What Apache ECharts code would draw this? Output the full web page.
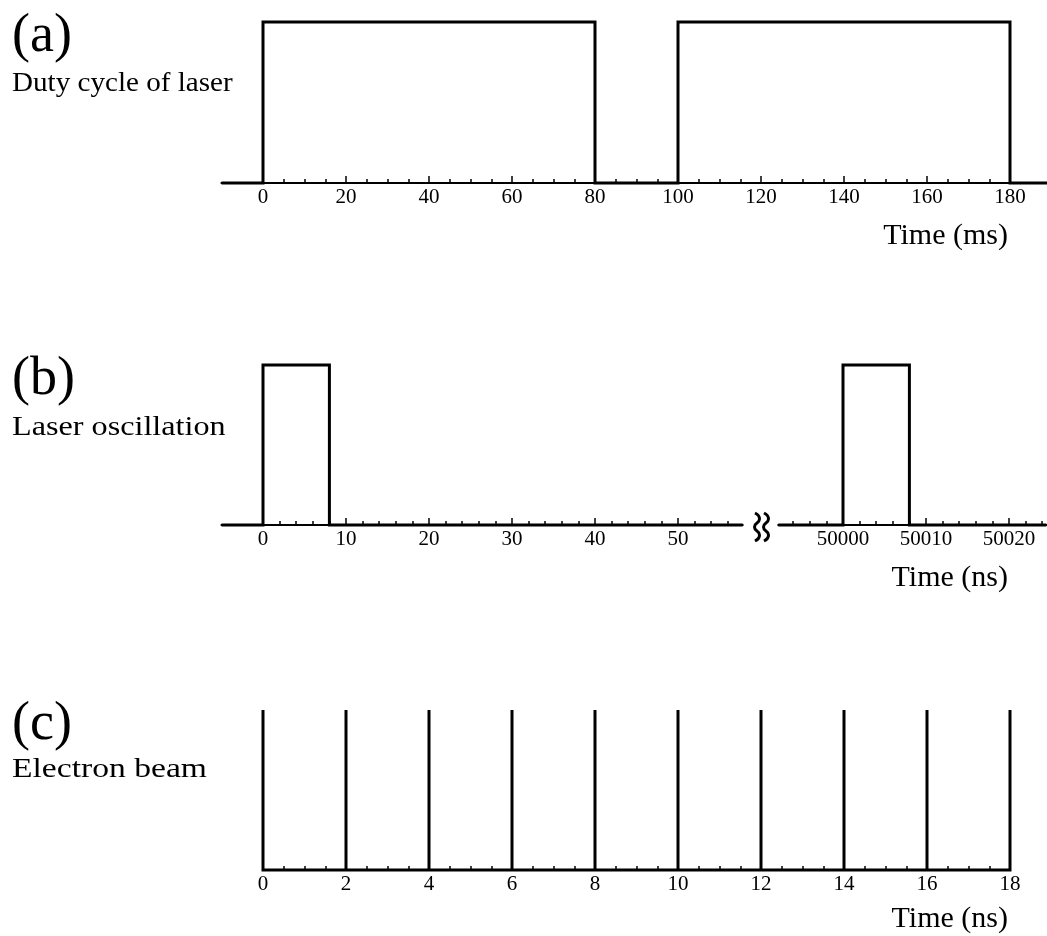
<!DOCTYPE html>
<html>
<head>
<meta charset="utf-8">
<script src="https://cdn.jsdelivr.net/npm/echarts@6/dist/echarts.min.js"></script>
<style>
html,body{margin:0;padding:0;background:#fff;}
#chart{width:1047px;height:936px;}
</style>
</head>
<body>
<div id="chart"></div>
<script>
// ---------------- data ----------------
// (a) duty cycle of laser, time in ms
const dutyTime  = [-10, 0, 0, 80, 80, 100, 100, 180, 180, 190];
const dutyLevel = [0, 0, 1, 1, 0, 0, 1, 1, 0, 0];
const ticksA = [0, 20, 40, 60, 80, 100, 120, 140, 160, 180];
const minorStepA = 5;

// (b) laser oscillation, time in ns (broken axis)
const oscNearTime  = [-5, 0, 0, 8, 8, 57.8];
const oscNearLevel = [0, 0, 1, 1, 0, 0];
const oscFarTime   = [49992.2, 50000, 50000, 50008, 50008, 50024.5];
const oscFarLevel  = [0, 0, 1, 1, 0, 0];
const ticksBnear = [0, 10, 20, 30, 40, 50];
const ticksBfar  = [50000, 50010, 50020];
const minorStepB = 2;

// (c) electron beam, time in ns
const beamTimes  = [0, 2, 4, 6, 8, 10, 12, 14, 16, 18];
const beamHeight = 1;
const ticksC = [0, 2, 4, 6, 8, 10, 12, 14, 16, 18];
const minorStepC = 0.5;

// text
const panelTags   = ['(a)', '(b)', '(c)'];
const panelNames  = ['Duty cycle of laser', 'Laser oscillation', 'Electron beam'];
const axisNames   = ['Time (ms)', 'Time (ns)', 'Time (ns)'];

// ---------------- helpers ----------------
function seq(a, b, s) { const r = []; for (let v = a; v <= b + 1e-9; v += s) r.push(+v.toFixed(6)); return r; }
function pairs(xs, ys) { return xs.map((x, i) => [x, ys[i]]); }
function spikes(ts, h) {
  const d = [];
  ts.forEach(t => { d.push([t, 0], [t, h], [t, 0]); });
  return d;
}

const FONT = '"Liberation Serif", "Times New Roman", serif';
const K1 = 4.15;   // px per ms in (a)
const K2 = 8.3;    // px per ns in (b)
const ranges = [[-10, 190], [-5, 57.8], [49992.2, 50024.5], [0, 18]];
const scales = [K1, K2, K2, 747 / 18];
const tops = [22, 365, 365, 710];
const heights = [161, 160, 160, 160];
const zeroPx = [263, 263, 843, 263];
const zeroVal = [0, 0, 50000, 0];
const grids = ranges.map((r, i) => ({
  containLabel: false, outerBoundsMode: 'none',
  left: zeroPx[i] + (r[0] - zeroVal[i]) * scales[i],
  width: (r[1] - r[0]) * scales[i],
  top: tops[i], height: heights[i]
}));

const majors = [ticksA, ticksBnear, ticksBfar, ticksC];
const minors = [
  seq(0, 180, minorStepA),
  seq(0, 56, minorStepB),
  seq(49994, 50024, minorStepB),
  seq(0, 18, minorStepC)
];

const xAxes = [];
const yAxes = [];
for (let i = 0; i < 4; i++) {
  xAxes.push({
    type: 'value', gridIndex: i, position: 'bottom', min: ranges[i][0], max: ranges[i][1],
    axisLine: { show: true, onZero: false, lineStyle: { color: '#000', width: 2.2 } },
    axisTick: { show: true, inside: true, length: 7, customValues: majors[i], lineStyle: { color: '#000', width: 1.5 } },
    axisLabel: { show: true, customValues: majors[i], margin: 4, color: '#000', fontFamily: FONT, fontSize: 21,
      formatter: v => String(v), hideOverlap: false, showMinLabel: true, showMaxLabel: true },
    splitLine: { show: false }, minorTick: { show: false }
  });
  xAxes.push({
    type: 'value', gridIndex: i, position: 'bottom', min: ranges[i][0], max: ranges[i][1],
    axisLine: { show: false, onZero: false },
    axisTick: { show: true, inside: true, length: 4, customValues: minors[i], lineStyle: { color: '#000', width: 1.5 } },
    axisLabel: { show: false },
    splitLine: { show: false }
  });
  yAxes.push({ type: 'value', gridIndex: i, min: 0, max: 1, show: false });
}

const lineStyle = { color: '#000', width: 3, join: 'miter', cap: 'butt' };
function lineSeries(idx, data) {
  return {
    type: 'line', xAxisIndex: idx * 2, yAxisIndex: idx, data: data,
    showSymbol: false, symbol: 'none', clip: false, silent: true,
    lineStyle: lineStyle, animation: false
  };
}

const series = [
  lineSeries(0, pairs(dutyTime, dutyLevel)),
  lineSeries(1, pairs(oscNearTime, oscNearLevel)),
  lineSeries(2, pairs(oscFarTime, oscFarLevel)),
  lineSeries(3, spikes(beamTimes, beamHeight).concat([[beamTimes[beamTimes.length - 1], 0]]))
];

// text placement
const tagY = [37, 380, 725];
const nameY = [84, 428, 770];
const nameStretch = [1.04, 1.15, 1.2];
const axisNameY = [236, 578, 919];
const graphic = [];
for (let i = 0; i < 3; i++) {
  graphic.push({ type: 'text', x: 12, y: tagY[i], silent: true,
    style: { text: panelTags[i], font: '54px ' + FONT, fill: '#000', textAlign: 'left', textVerticalAlign: 'middle' } });
  graphic.push({ type: 'text', x: 12, y: nameY[i], scaleX: nameStretch[i], silent: true,
    style: { text: panelNames[i], font: '28px ' + FONT, fill: '#000', textAlign: 'left', textVerticalAlign: 'middle' } });
  graphic.push({ type: 'text', x: 1008, y: axisNameY[i], silent: true,
    style: { text: axisNames[i], font: '30px ' + FONT, fill: '#000', textAlign: 'right', textVerticalAlign: 'middle' } });
}
// axis break mark: two wavy strokes
[757, 766].forEach(cx => {
  graphic.push({ type: 'polyline', silent: true,
    shape: { points: [[cx - 2, 513], [cx + 2.5, 519], [cx - 2.5, 527], [cx + 2.5, 535], [cx - 2, 541]], smooth: 0.6 },
    style: { stroke: '#000', lineWidth: 3, fill: null } });
});

const chart = echarts.init(document.getElementById('chart'), null, { renderer: 'canvas' });
chart.setOption({
  animation: false,
  backgroundColor: '#fff',
  grid: grids,
  xAxis: xAxes,
  yAxis: yAxes,
  series: series,
  graphic: graphic
});
</script>
</body>
</html>
